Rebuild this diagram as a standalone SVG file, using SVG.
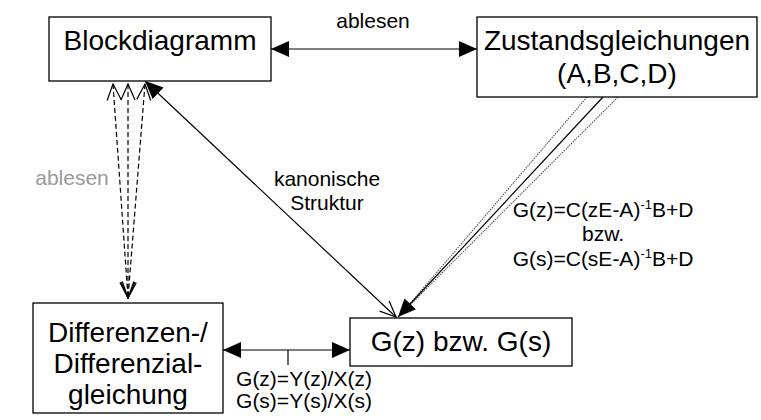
<svg xmlns="http://www.w3.org/2000/svg" width="761" height="420" viewBox="0 0 761 420">
<style>
.box{fill:#fff;stroke:#000;stroke-width:1.3}
.big{font-family:"Liberation Sans",Arial,sans-serif;font-size:28px;fill:#000;text-anchor:middle}
.sm{font-family:"Liberation Sans",Arial,sans-serif;font-size:21px;fill:#000;text-anchor:middle}
.ln{fill:none;stroke:#000;stroke-width:1.2}
.dash{fill:none;stroke:#000;stroke-width:1.2;stroke-dasharray:5,3}
.dot{fill:none;stroke:#555;stroke-width:1.1;stroke-dasharray:1.5,1}
</style>
<defs>
<marker id="af" markerUnits="userSpaceOnUse" viewBox="0 0 18 16" refX="18" refY="8" markerWidth="18" markerHeight="16" orient="auto-start-reverse">
<path d="M0,0 L18,8 L0,16 z" fill="#000"/>
</marker>
<marker id="ao" markerUnits="userSpaceOnUse" viewBox="-1 -1 18 16" refX="16" refY="7" markerWidth="18" markerHeight="16" orient="auto-start-reverse">
<path d="M0,0 L16,7 L0,14" fill="none" stroke="#000" stroke-width="1.2"/>
</marker>
</defs>
<g id="connectors">
<line class="ln" x1="271" y1="49" x2="477" y2="49" marker-start="url(#af)" marker-end="url(#af)"/>
<line class="dash" x1="113" y1="84" x2="128" y2="298" marker-start="url(#ao)" marker-end="url(#ao)"/>
<line class="dash" x1="128" y1="84" x2="128" y2="298" marker-start="url(#ao)" marker-end="url(#ao)"/>
<line class="dash" x1="145" y1="84" x2="128" y2="298" marker-start="url(#ao)" marker-end="url(#ao)"/>
<line class="ln" x1="145" y1="81" x2="396" y2="317" marker-start="url(#af)" marker-end="url(#ao)"/>
<line class="dot" x1="587" y1="97" x2="408" y2="306"/>
<line class="dot" x1="618" y1="97" x2="410" y2="305"/>
<line class="ln" x1="603" y1="97" x2="398" y2="317" marker-end="url(#af)"/>
<line class="ln" x1="223" y1="350" x2="350" y2="350" marker-start="url(#af)" marker-end="url(#af)"/>
<line class="ln" x1="288" y1="350" x2="288" y2="365"/>
<text class="sm" x="373" y="28">ablesen</text>
<text class="sm" x="72" y="185" style="fill:#999">ablesen</text>
<text class="sm" x="327" y="186">kanonische</text>
<text class="sm" x="327" y="210">Struktur</text>
<text class="sm" x="603" y="217">G(z)=C(zE-A)<tspan dy="-8" font-size="13">-1</tspan><tspan dy="8">B+D</tspan></text>
<text class="sm" x="603" y="241">bzw.</text>
<text class="sm" x="603" y="266">G(s)=C(sE-A)<tspan dy="-8" font-size="13">-1</tspan><tspan dy="8">B+D</tspan></text>
<text class="sm" x="304" y="386">G(z)=Y(z)/X(z)</text>
<text class="sm" x="304" y="408">G(s)=Y(s)/X(s)</text>
</g>
<g id="blockdiagramm">
<rect class="box" x="49" y="17" width="222" height="64"/>
<text class="big" x="160" y="50">Blockdiagramm</text>
</g>
<g id="zustand">
<rect class="box" x="477" y="17" width="280" height="80"/>
<text class="big" x="617" y="50">Zustandsgleichungen</text>
<text class="big" x="617" y="83">(A,B,C,D)</text>
</g>
<g id="differenzen">
<rect class="box" x="33" y="303" width="190" height="110"/>
<text class="big" x="128" y="342">Differenzen-/</text>
<text class="big" x="128" y="373">Differenzial-</text>
<text class="big" x="128" y="404">gleichung</text>
</g>
<g id="gzs">
<rect class="box" x="350" y="318" width="222" height="48"/>
<text class="big" x="461" y="351">G(z) bzw. G(s)</text>
</g>
</svg>
